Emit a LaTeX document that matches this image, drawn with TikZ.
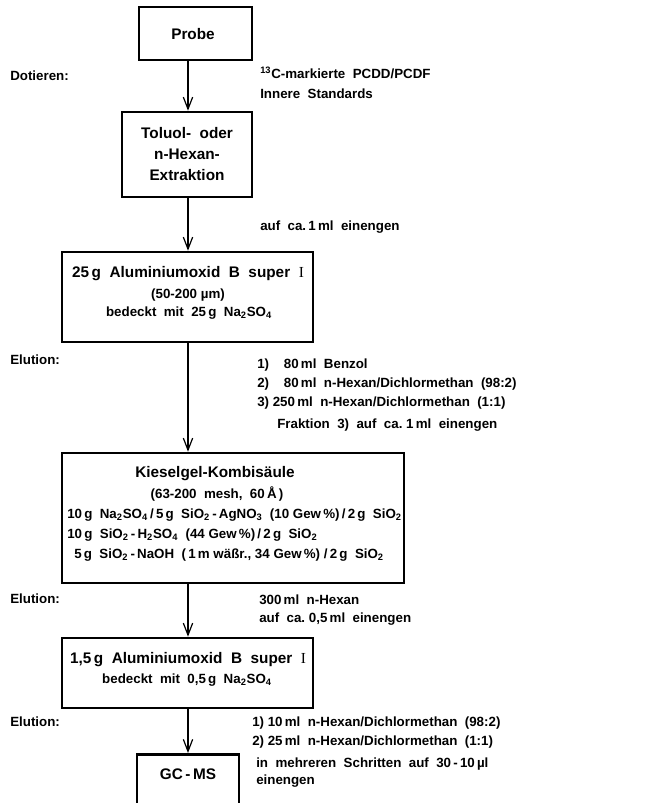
\documentclass[tikz,border=0pt]{standalone}
\usepackage{fontspec}
\setmainfont{Liberation Sans}
\newfontfamily\romanI{Liberation Serif}
\usetikzlibrary{arrows.meta}

\newcommand{\headfont}{\bfseries\fontsize{11.5}{15.5}\selectfont}
\newcommand{\subfont}{\bfseries\fontsize{10}{14}\selectfont}

\begin{document}
\begin{tikzpicture}[x=0.75pt,y=-0.75pt,>={Straight Barb[length=9pt,width=7pt]},
  stepbox/.style={draw,line width=1.9pt,inner sep=0pt},
  hd/.style={inner sep=0pt,align=center,font=\headfont},
  sb/.style={inner sep=0pt,align=center,font=\subfont},
  lbl/.style={inner sep=0pt,anchor=west,font=\subfont},
  flow/.style={->,line width=0.9pt}]

\useasboundingbox (0,0) rectangle (667,803);
\coordinate (col) at (188,0);

% boxes
\node[stepbox,minimum width=84.75pt,minimum height=39.75pt] (probe) at (195.5,33.5) {};
\node[stepbox,minimum width=97.5pt,minimum height=63.75pt] (extr) at (187,154.5) {};
\node[stepbox,minimum width=188.25pt,minimum height=67.5pt] (alox) at (187.5,297) {};
\node[stepbox,minimum width=256.5pt,minimum height=97.5pt] (kiesel) at (233,518) {};
\node[stepbox,minimum width=188.25pt,minimum height=52.5pt] (aloxb) at (187.5,673) {};
\node[stepbox,minimum width=76.5pt,minimum height=75pt,anchor=north,
  label={[hd,anchor=center,yshift=-15.75pt]north:GC\,-\,MS}] (gcms) at (188,753) {};

% box texts
\node[hd] (probetxt) at (193,34) {Probe};
\node[hd] (extrtxt) at (187,154) {Toluol-\ \ oder\\n-Hexan-\\Extraktion};
\node[hd] (aloxhd) at (188,274) {25\,g\ \ Aluminiumoxid\ \ B\ \ super\ \ {\romanI\mdseries I}};
\node[sb] (aloxgr) at (188,295) {(50-200\ µm)};
\node[sb] (aloxna) at (189,313) {bedeckt\ \ mit\ \ 25\,g\ \ Na\textsubscript{2}SO\textsubscript{4}};
\node[hd] (kieselhd) at (215,474) {Kieselgel-Kombisäule};
\node[sb] (kieselgr) at (217,494) {(63-200\ \ mesh,\ \ 60\,Å\,)};
\node[lbl] (kieselA) at (67,515) {10\,g\ \ Na\textsubscript{2}SO\textsubscript{4}\,/\,5\,g\ \ SiO\textsubscript{2}\,-\,AgNO\textsubscript{3}\ \ (10\ Gew\,\%)\,/\,2\,g\ \ SiO\textsubscript{2}};
\node[lbl] (kieselB) at (67,535) {10\,g\ \ SiO\textsubscript{2}\,-\,H\textsubscript{2}SO\textsubscript{4}\ \ (44\ Gew\,\%)\,/\,2\,g\ \ SiO\textsubscript{2}};
\node[lbl] (kieselC) at (74,555) {5\,g\ \ SiO\textsubscript{2}\,-\,NaOH\ \ (\,1\,m\ wäßr.,\ 34\ Gew\,\%)\ /\,2\,g\ \ SiO\textsubscript{2}};
\node[hd] (aloxbhd) at (188,660) {1,5\,g\ \ Aluminiumoxid\ \ B\ \ super\ \ {\romanI\mdseries I}};
\node[sb] (aloxbna) at (187,680) {bedeckt\ \ mit\ \ 0,5\,g\ \ Na\textsubscript{2}SO\textsubscript{4}};

% side notes
\node[lbl] (dot) at (10,76) {Dotieren:};
\node[lbl] (stdA) at (260,73) {\textsuperscript{13}C-markierte\ \ PCDD/PCDF};
\node[lbl] (stdB) at (260,94) {Innere\ \ Standards};
\node[lbl] (konzA) at (260,227) {auf\ \ ca.\,1\,ml\ \ einengen};
\node[lbl] (eluA) at (10,360) {Elution:};
\node[lbl] (benz) at (257,365) {1)\ \ \phantom{2}80\,ml\ \ Benzol};
\node[lbl] (hexA) at (257,384) {2)\ \ \phantom{2}80\,ml\ \ n-Hexan/Dichlormethan\ \ (98:2)};
\node[lbl] (hexB) at (257,403) {3)\ 250\,ml\ \ n-Hexan/Dichlormethan\ \ (1:1)};
\node[lbl] (frak) at (277,425) {Fraktion\ \ 3)\ \ auf\ \ ca.\ 1\,ml\ \ einengen};
\node[lbl] (eluB) at (10,599) {Elution:};
\node[lbl] (hexC) at (259,600) {300\,ml\ \ n-Hexan};
\node[lbl] (konzB) at (259,619) {auf\ \ ca.\ 0,5\,ml\ \ einengen};
\node[lbl] (eluC) at (10,722) {Elution:};
\node[lbl] (hexD) at (252,723) {1)\ 10\,ml\ \ n-Hexan/Dichlormethan\ \ (98:2)};
\node[lbl] (hexE) at (252,742) {2)\ 25\,ml\ \ n-Hexan/Dichlormethan\ \ (1:1)};
\node[lbl] (konzC) at (256,764) {in\ \ mehreren\ \ Schritten\ \ auf\ \ 30\,-\,10\,µl};
\node[lbl] (konzD) at (256,781) {einengen};

% flow
\draw[flow] (probe.south -| col) -- (extr.north -| col);
\draw[flow] (extr.south -| col) -- (alox.north -| col);
\draw[flow] (alox.south -| col) -- (kiesel.north -| col);
\draw[flow] (kiesel.south -| col) -- (aloxb.north -| col);
\draw[flow] (aloxb.south -| col) -- (gcms.north -| col);

\end{tikzpicture}
\end{document}
